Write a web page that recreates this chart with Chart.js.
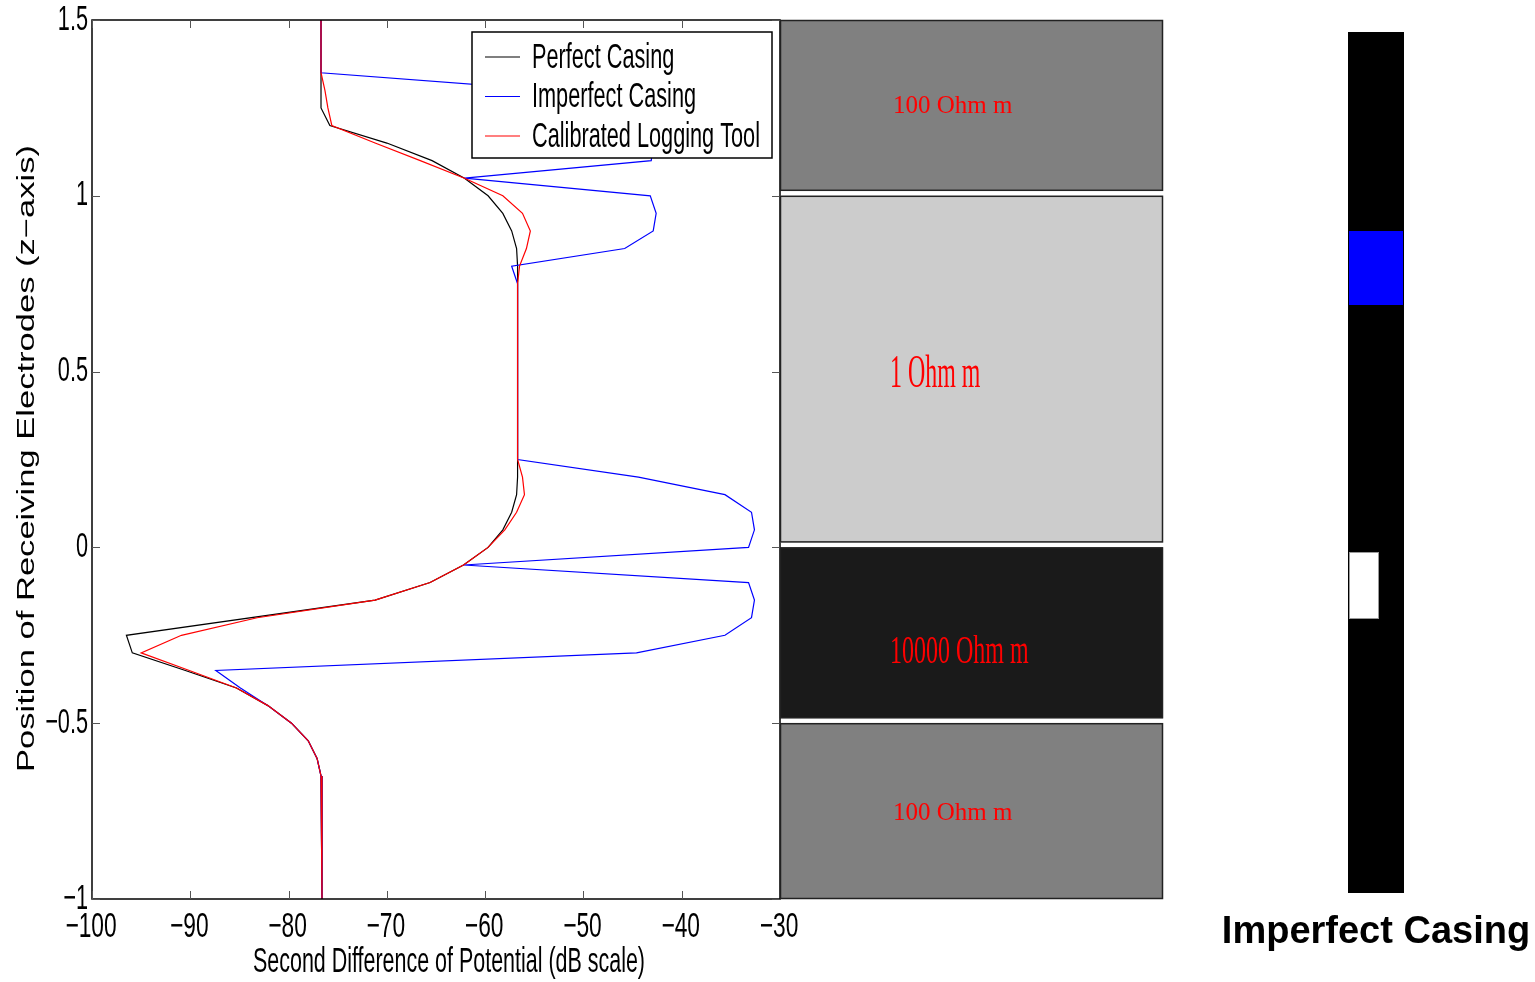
<!DOCTYPE html>
<html>
<head>
<meta charset="utf-8">
<script src="https://cdn.jsdelivr.net/npm/chart.js@4.4.1/dist/chart.umd.min.js"></script>
<style>
  html, body { margin: 0; padding: 0; background: #fff; }
  #wrap { position: relative; width: 1535px; height: 982px; overflow: hidden; }
  #chartTahun { position: absolute; left: 0; top: 0; }
  #casing { position: absolute; left: 1348px; top: 32px; width: 56px; height: 861px; background: #000; }
  #casing .blue { position: absolute; left: 1px; top: 199px; width: 54px; height: 74px; background: #0000ff; }
  #casing .hole { position: absolute; left: 1px; top: 520px; width: 30px; height: 67px; background: #fff; box-sizing: border-box; border: 1px solid #999; }
  #casingTitle { position: absolute; left: 1200px; top: 909px; width: 352px; text-align: center;
    font: bold 38px "Liberation Sans", Arial, sans-serif; line-height: 42px; color: #000; }
</style>
</head>
<body>
<div id="wrap">
  <canvas id="chartTahun" width="1535" height="982"></canvas>
  <div id="casing"><div class="blue"></div><div class="hole"></div></div>
  <div id="casingTitle">Imperfect Casing</div>
</div>
<script>
// kedalaman elektroda (z) dan nilai beda potensial kedua (dB)
const perfectDepth = [1.5, 1.25, 1.2, 1.15, 1.1, 1.05, 1.0, 0.95, 0.9, 0.85, 0.8, 0.25, 0.2, 0.15, 0.1, 0.05, 0, -0.05, -0.1, -0.15, -0.25, -0.3, -0.35, -0.4, -0.45, -0.5, -0.55, -0.6, -0.65, -0.7, -1.0];
const perfectValue = [-76.7, -76.7, -75.8, -70.0, -65.4, -62.1, -59.7, -58.2, -57.3, -56.8, -56.7, -56.7, -56.7, -56.8, -57.3, -58.2, -59.7, -62.2, -65.6, -71.2, -96.5, -95.9, -90.5, -85.3, -82.1, -79.7, -78.0, -77.1, -76.7, -76.6, -76.6];

const imperfectDepth = [1.5, 1.35, 1.3, 1.25, 1.2, 1.15, 1.1, 1.05, 1.0, 0.95, 0.9, 0.85, 0.8, 0.75, 0.25, 0.2, 0.15, 0.1, 0.05, 0, -0.05, -0.1, -0.15, -0.2, -0.25, -0.3, -0.35, -0.4, -0.45, -0.5, -0.55, -0.6, -0.65, -0.7, -1.0];
const imperfectValue = [-76.7, -76.7, -53.1, -44.5, -42.6, -42.9, -43.1, -62.1, -43.2, -42.6, -42.9, -45.8, -57.3, -56.7, -56.7, -44.4, -35.6, -32.9, -32.6, -33.2, -62.2, -33.2, -32.6, -32.9, -35.6, -44.6, -87.4, -84.9, -82.1, -79.7, -78.0, -77.1, -76.7, -76.6, -76.6];

const calibratedDepth = [1.5, 1.35, 1.3, 1.25, 1.2, 1.15, 1.1, 1.05, 1.0, 0.95, 0.9, 0.85, 0.8, 0.75, 0.25, 0.2, 0.15, 0.1, 0.05, 0, -0.05, -0.1, -0.15, -0.2, -0.25, -0.3, -0.35, -0.4, -0.45, -0.5, -0.55, -0.6, -0.65, -0.7, -1.0];
const calibratedValue = [-76.7, -76.7, -76.3, -76.0, -75.6, -71.2, -66.6, -62.1, -58.2, -56.2, -55.4, -55.8, -56.5, -56.7, -56.7, -56.2, -56.0, -56.8, -58.0, -59.7, -62.2, -65.6, -71.2, -83.2, -90.9, -95.0, -90.1, -85.3, -82.1, -79.7, -78.0, -77.1, -76.7, -76.6, -76.6];

// lapisan formasi (resistivitas)
const layerTop = [1.5, 1.0, 0.0, -0.5];
const layerBottom = [1.0, 0.0, -0.5, -1.0];
const layerNames = ['100 Ohm m', '1 Ohm m', '10000 Ohm m', '100 Ohm m'];

// sumbu
const xMin = -100, xMax = -30, xStep = 10;
const yMin = -1, yMax = 1.5, yStep = 0.5;
const xTitle = 'Second Difference of Potential (dB scale)';
const yTitle = 'Position of Receiving Electrodes (z\u2212axis)';

// gaya (bukan data)
const layerFill = ['#808080', '#cccccc', '#1a1a1a', '#808080'];
const layerFont = [25, 46, 40, 25];
const layerSquash = [1, 0.52, 0.6, 1];
const layerNudge = [1, 6, 20, 2];
const layerIndent = [893, 890, 890, 893];
const SANS = '"Liberation Sans", Arial, sans-serif';
const SERIF = '"Liberation Serif", "Times New Roman", serif';

function pairs(depth, value) {
    return depth.map((z, i) => ({ x: value[i], y: z }));
}

function squashText(ctx, text, x, y, font, sx, align) {
    ctx.save();
    ctx.font = font;
    ctx.translate(x, y);
    ctx.scale(sx, 1);
    ctx.textAlign = align;
    ctx.textBaseline = 'middle';
    ctx.fillText(text, 0, 0);
    ctx.restore();
}

function fmt(v) {
    return String(Math.round(v * 10) / 10).replace('-', '\u2212');
}

const framePlugin = {
    id: 'frame',
    beforeDraw(chart) {
        const ctx = chart.ctx;
        ctx.save();
        ctx.fillStyle = '#fff';
        ctx.fillRect(0, 0, chart.width, chart.height);
        ctx.restore();
    },
    afterDatasetsDraw(chart) {
        const ctx = chart.ctx;
        const { left, right, top, bottom } = chart.chartArea;
        const xs = chart.scales.x, ys = chart.scales.y;
        ctx.save();

        // kotak legenda
        const lx = 472, ly = 32, lw = 300, lh = 126;
        ctx.fillStyle = '#fff';
        ctx.fillRect(lx, ly, lw, lh);
        ctx.strokeStyle = '#000';
        ctx.lineWidth = 1.5;
        ctx.strokeRect(lx, ly, lw, lh);
        chart.data.datasets.forEach((ds, i) => {
            const cy = 57 + i * 39.5;
            ctx.strokeStyle = ds.borderColor;
            ctx.lineWidth = 1.2;
            ctx.beginPath();
            ctx.moveTo(485, cy);
            ctx.lineTo(520, cy);
            ctx.stroke();
            ctx.fillStyle = '#000';
            squashText(ctx, ds.label, 532, cy + 1, '35px ' + SANS, 0.62, 'left');
        });

        // bingkai plot
        ctx.strokeStyle = '#000';
        ctx.lineWidth = 1.5;
        ctx.strokeRect(left, top, right - left, bottom - top);

        // tick ke dalam
        ctx.strokeStyle = '#555';
        ctx.lineWidth = 1;
        ctx.beginPath();
        xs.ticks.forEach(t => {
            const px = Math.round(xs.getPixelForValue(t.value)) + 0.5;
            ctx.moveTo(px, bottom); ctx.lineTo(px, bottom - 8);
            ctx.moveTo(px, top); ctx.lineTo(px, top + 8);
        });
        ys.ticks.forEach(t => {
            const py = Math.round(ys.getPixelForValue(t.value)) + 0.5;
            ctx.moveTo(left, py); ctx.lineTo(left + 8, py);
            ctx.moveTo(right, py); ctx.lineTo(right - 8, py);
        });
        ctx.stroke();

        // label tick
        ctx.fillStyle = '#000';
        xs.ticks.forEach(t => {
            squashText(ctx, fmt(t.value), xs.getPixelForValue(t.value) - 1, 927, '35px ' + SANS, 0.65, 'center');
        });
        ys.ticks.forEach(t => {
            squashText(ctx, fmt(t.value), 88, ys.getPixelForValue(t.value), '35px ' + SANS, 0.62, 'right');
        });

        // judul sumbu x
        ctx.font = '35px ' + SANS;
        const wx = ctx.measureText(xTitle).width;
        squashText(ctx, xTitle, 449, 962, '35px ' + SANS, 392 / wx, 'center');

        // judul sumbu y
        ctx.font = '23px ' + SANS;
        const wy = ctx.measureText(yTitle).width;
        ctx.save();
        ctx.translate(28, (top + bottom) / 2 - 1);
        ctx.rotate(-Math.PI / 2);
        squashText(ctx, yTitle, 0, 0, '23px ' + SANS, 627 / wy, 'center');
        ctx.restore();

        ctx.restore();
    },
    afterDraw(chart) {
        // panel lapisan di kanan plot
        const ctx = chart.ctx;
        const ys = chart.scales.y;
        const x0 = chart.chartArea.right, x1 = 1163;
        ctx.save();
        layerTop.forEach((zt, i) => {
            const yt = ys.getPixelForValue(zt);
            const yb = ys.getPixelForValue(layerBottom[i]) - (i < layerTop.length - 1 ? 5 : 0);
            ctx.fillStyle = layerFill[i];
            ctx.fillRect(x0, yt, x1 - x0, yb - yt);
            ctx.strokeStyle = '#222';
            ctx.lineWidth = 1.5;
            ctx.strokeRect(x0 + 0.5, yt + 0.5, x1 - x0 - 1, yb - yt - 1);
            ctx.fillStyle = '#ff0000';
            squashText(ctx, layerNames[i], layerIndent[i], (yt + yb) / 2 + layerNudge[i],
                layerFont[i] + 'px ' + SERIF, layerSquash[i], 'left');
        });
        ctx.restore();
    }
};

const ctx = document.getElementById('chartTahun').getContext('2d');
const myChart = new Chart(ctx, {
    type: 'scatter',
    data: {
        datasets: [
            { label: 'Perfect Casing', data: pairs(perfectDepth, perfectValue),
              borderColor: '#000000', order: 2 },
            { label: 'Imperfect Casing', data: pairs(imperfectDepth, imperfectValue),
              borderColor: '#0000ff', order: 1 },
            { label: 'Calibrated Logging Tool', data: pairs(calibratedDepth, calibratedValue),
              borderColor: '#ff0000', order: 0 }
        ]
    },
    options: {
        responsive: false,
        animation: false,
        devicePixelRatio: 1,
        events: [],
        datasets: {
            scatter: { showLine: true, pointRadius: 0, borderWidth: 1.2, tension: 0, fill: false }
        },
        layout: { padding: { left: 0, top: 20, right: 755, bottom: 0 } },
        plugins: { legend: { display: false }, tooltip: { enabled: false } },
        scales: {
            x: {
                type: 'linear', min: xMin, max: xMax,
                ticks: { stepSize: xStep, display: false },
                grid: { display: false }, border: { display: false },
                afterFit: s => { s.height = 83; }
            },
            y: {
                type: 'linear', min: yMin, max: yMax,
                ticks: { stepSize: yStep, display: false },
                grid: { display: false }, border: { display: false },
                afterFit: s => { s.width = 92; }
            }
        }
    },
    plugins: [framePlugin]
});
</script>
</body>
</html>
